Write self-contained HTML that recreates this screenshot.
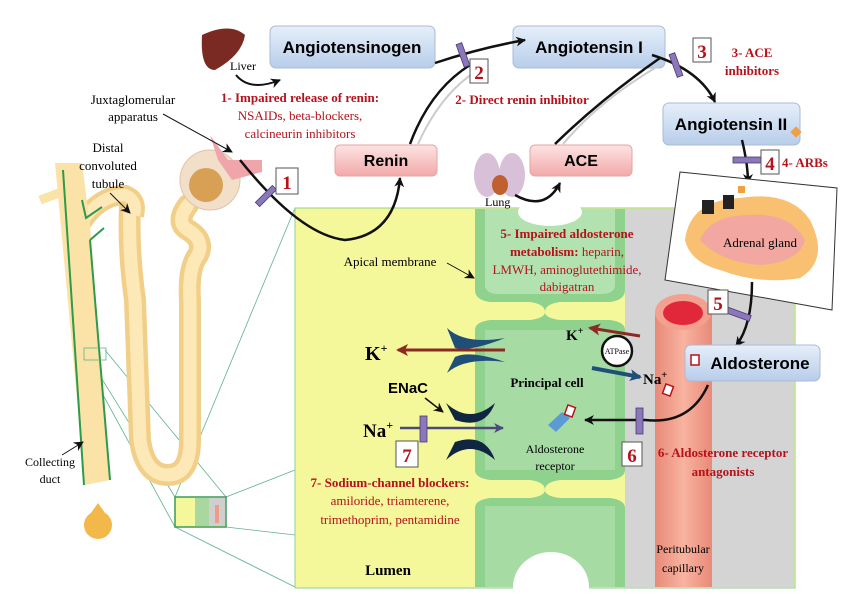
<!DOCTYPE html>
<html><head><meta charset="utf-8"><style>
body{margin:0;background:#fff}
svg{display:block}
text{font-family:"Liberation Serif",serif}
.s{font-family:"Liberation Sans",sans-serif;font-weight:bold}
.r{fill:#b5121b;font-weight:bold}
.rn{fill:#b5121b}
</style></head><body>
<svg width="862" height="612" viewBox="0 0 862 612" xmlns="http://www.w3.org/2000/svg">
<defs>
<linearGradient id="bl" x1="0" y1="0" x2="0" y2="1"><stop offset="0" stop-color="#e6effa"/><stop offset="1" stop-color="#b8cdea"/></linearGradient>
<linearGradient id="pk" x1="0" y1="0" x2="0" y2="1"><stop offset="0" stop-color="#fde3e3"/><stop offset="1" stop-color="#f2a9a9"/></linearGradient>
<linearGradient id="cap" x1="0" y1="0" x2="1" y2="0"><stop offset="0" stop-color="#e88a78"/><stop offset="0.5" stop-color="#f8b3a0"/><stop offset="1" stop-color="#e88a78"/></linearGradient>
<marker id="a" markerUnits="userSpaceOnUse" markerWidth="12" markerHeight="12" refX="9" refY="5" orient="auto"><path d="M0,0 L10,5 L0,10 L3,5z" fill="#111"/></marker>
<marker id="ar" markerUnits="userSpaceOnUse" markerWidth="14" markerHeight="14" refX="10" refY="6" orient="auto"><path d="M0,0 L12,6 L0,12 L3,6z" fill="#8b2a22"/></marker>
<marker id="ab" markerUnits="userSpaceOnUse" markerWidth="14" markerHeight="14" refX="10" refY="6" orient="auto"><path d="M0,0 L12,6 L0,12 L3,6z" fill="#1f4e79"/></marker>
<marker id="ap" markerUnits="userSpaceOnUse" markerWidth="12" markerHeight="12" refX="9" refY="5" orient="auto"><path d="M0,0 L10,5 L0,10 L3,5z" fill="#4a4a7a"/></marker>
</defs>

<!-- zoom lines -->
<g stroke="#5fb38a" stroke-width="0.8" fill="none">
<line x1="175" y1="497" x2="295" y2="208"/><line x1="175" y1="527" x2="295" y2="587"/>
<line x1="226" y1="497" x2="295" y2="470"/><line x1="226" y1="527" x2="295" y2="535"/>
<line x1="84" y1="350" x2="175" y2="497"/><line x1="105" y1="350" x2="226" y2="497"/><line x1="84" y1="360" x2="175" y2="527"/>
</g>

<!-- tubule -->
<path d="M130,205 Q128,250 135,300 L140,440 Q145,475 168,475 Q190,475 190,440 L190,300 Q188,268 198,255 Q205,240 188,230 Q175,222 188,205" stroke="#f2cf88" stroke-width="22" fill="none" stroke-linecap="round"/>
<path d="M130,205 Q128,250 135,300 L140,440 Q145,475 168,475 Q190,475 190,440 L190,300 Q188,268 198,255 Q205,240 188,230 Q175,222 188,205" stroke="#fde9b8" stroke-width="13" fill="none" stroke-linecap="round"/>
<path d="M82,222 Q100,195 125,195 Q138,200 134,215" stroke="#f2cf88" stroke-width="20" fill="none"/>
<path d="M82,222 Q100,195 125,195 Q138,200 134,215" stroke="#fde9b8" stroke-width="12" fill="none"/>
<path d="M55,163 L82,163 L90,225 L110,480 L85,485 Z" fill="#fbe3a8"/>
<path d="M40,200 L62,192" stroke="#fbe3a8" stroke-width="9"/>
<path d="M63,170 L84,485" stroke="#2e9a4a" stroke-width="2"/>
<path d="M90,240 L110,480" stroke="#2e9a4a" stroke-width="2"/>
<path d="M82,200 L86,218 L102,207 M90,240 L104,228" stroke="#2e9a4a" stroke-width="2" fill="none"/>
<rect x="84" y="348" width="22" height="12" fill="none" stroke="#5fb38a" stroke-width="0.8"/>
<circle cx="210" cy="180" r="30" fill="#f2dfc9" stroke="#e0c3a4"/>
<circle cx="206" cy="185" r="17" fill="#d8a055"/>
<path d="M210,135 L228,160 L262,160 L262,172 L232,180 L218,160 Z" fill="#f0a5aa"/>
<circle cx="98" cy="525" r="14" fill="#f2b84a"/>
<path d="M98,503 L86,520 L110,520 Z" fill="#f2b84a"/>
<rect x="175" y="497" width="51" height="30" fill="#f4f79a" stroke="#3c9a5a" stroke-width="1.5"/>
<rect x="195" y="498" width="14" height="28" fill="#a8d8a0"/>
<rect x="209" y="498" width="16" height="28" fill="#cfcfcf"/>
<rect x="215" y="505" width="4" height="18" fill="#f29a8a"/>

<text x="133" y="104" font-size="13" text-anchor="middle">Juxtaglomerular</text>
<text x="133" y="121" font-size="13" text-anchor="middle">apparatus</text>
<line x1="163" y1="114" x2="232" y2="152" stroke="#111" marker-end="url(#a)"/>
<text x="108" y="152" font-size="13" text-anchor="middle">Distal</text>
<text x="108" y="170" font-size="13" text-anchor="middle">convoluted</text>
<text x="108" y="188" font-size="13" text-anchor="middle">tubule</text>
<line x1="110" y1="193" x2="130" y2="213" stroke="#111" marker-end="url(#a)"/>
<text x="50" y="466" font-size="12" text-anchor="middle">Collecting</text>
<text x="50" y="483" font-size="12" text-anchor="middle">duct</text>
<line x1="62" y1="455" x2="83" y2="442" stroke="#111" marker-end="url(#a)"/>

<!-- liver / lung -->
<path d="M202,35 Q230,22 245,35 Q242,55 215,70 Q200,70 202,35z" fill="#7a2a22"/>
<text x="230" y="70" font-size="12">Liver</text>
<path d="M236,75 Q250,92 280,80" stroke="#111" stroke-width="2" fill="none" marker-end="url(#a)"/>
<ellipse cx="487" cy="175" rx="13" ry="22" fill="#d8c0d8"/>
<ellipse cx="512" cy="175" rx="13" ry="22" fill="#d8c0d8"/>
<ellipse cx="500" cy="185" rx="8" ry="10" fill="#c06030"/>

<!-- boxes -->
<rect x="270" y="26" width="165" height="42" rx="6" fill="url(#bl)" stroke="#aabbd5"/>
<text x="352" y="53" font-size="17" class="s" text-anchor="middle">Angiotensinogen</text>
<rect x="513" y="26" width="152" height="42" rx="6" fill="url(#bl)" stroke="#aabbd5"/>
<text x="589" y="53" font-size="17" class="s" text-anchor="middle">Angiotensin I</text>
<rect x="663" y="103" width="137" height="42" rx="6" fill="url(#bl)" stroke="#aabbd5"/>
<text x="731" y="130" font-size="17" class="s" text-anchor="middle">Angiotensin II</text>
<rect x="335" y="145" width="102" height="31" rx="5" fill="url(#pk)" stroke="#e3a5a5"/>
<text x="386" y="166" font-size="16" class="s" text-anchor="middle">Renin</text>
<rect x="530" y="145" width="102" height="31" rx="5" fill="url(#pk)" stroke="#e3a5a5"/>
<text x="581" y="166" font-size="16" class="s" text-anchor="middle">ACE</text>
<rect x="792" y="128" width="8" height="8" fill="#f0a040" transform="rotate(45 796 132)"/>

<!-- pathway arrows -->
<path d="M418,144 Q440,95 475,72" stroke="#ccc" stroke-width="2" fill="none"/>
<path d="M563,144 Q600,100 660,65" stroke="#ccc" stroke-width="2" fill="none"/>
<g stroke="#111" stroke-width="2.5" fill="none">
<path d="M410,144 Q430,90 470,65"/>
<path d="M435,63 Q480,48 525,40" marker-end="url(#a)"/>
<path d="M555,144 Q600,100 660,58"/>
<path d="M652,55 Q700,70 715,102" marker-end="url(#a)"/>
<path d="M742,140 Q748,165 748,183" marker-end="url(#a)"/>
</g>

<!-- cell panel -->
<rect x="295" y="208" width="500" height="380" fill="#f4f79a" stroke="#8fd08f"/>
<rect x="625" y="209" width="169" height="378" fill="#d4d4d4"/>
<path d="M475,209 L625,209 L625,290 Q625,300 610,302 L560,302 Q545,304 545,312 Q545,318 560,320 L610,320 Q625,322 625,330 L625,470 Q625,478 610,480 L560,480 Q545,482 545,490 Q545,496 560,498 L610,498 Q625,500 625,508 L625,587 L475,587 L475,508 Q475,500 490,498 L530,498 Q545,496 545,490 Q545,482 530,480 L490,480 Q475,478 475,470 L475,330 Q475,322 490,320 L530,320 Q545,318 545,312 Q545,304 530,302 L490,302 Q475,300 475,290z" fill="#8ed28e"/>
<path d="M485,209 L615,209 L615,285 Q615,294 600,294 L500,294 Q485,294 485,285z" fill="#b2e2b0"/>
<path d="M485,330 L615,330 L615,470 L485,470z" fill="#a6dca4"/>
<path d="M485,506 L615,506 L615,587 L485,587z" fill="#a6dca4"/>
<ellipse cx="550" cy="212" rx="32" ry="14" fill="#fff"/>
<ellipse cx="551" cy="587" rx="38" ry="35" fill="#fff"/>
<rect x="655" y="312" width="57" height="275" fill="url(#cap)"/>
<ellipse cx="683" cy="312" rx="28" ry="18" fill="#f4a090"/>
<ellipse cx="683" cy="313" rx="20" ry="12" fill="#e0283a"/>

<!-- curves over panel -->
<g stroke="#111" stroke-width="2.5" fill="none">
<path d="M240,160 Q300,235 345,240 Q395,235 400,178" marker-end="url(#a)"/>
<path d="M515,195 Q545,212 560,183" marker-end="url(#a)"/>
</g>
<text x="485" y="206" font-size="12">Lung</text>

<!-- adrenal -->
<polygon points="680,172 837,188 832,310 665,280" fill="#fff" stroke="#333"/>
<path d="M685,240 Q690,200 740,198 Q790,190 810,220 Q830,260 800,278 Q760,285 720,270 Q690,262 685,240z" fill="#f8c070"/>
<path d="M700,240 Q710,215 750,215 Q790,212 805,240 Q800,262 760,265 Q720,262 700,240z" fill="#f2a8a0"/>
<rect x="702" y="200" width="12" height="14" fill="#222"/><rect x="723" y="195" width="11" height="14" fill="#222"/>
<rect x="738" y="186" width="7" height="7" fill="#f0a040"/>
<text x="760" y="247" font-size="13" text-anchor="middle">Adrenal gland</text>
<path d="M752,282 Q752,325 736,346" stroke="#111" stroke-width="2.5" fill="none" marker-end="url(#a)"/>

<!-- blockers -->
<g fill="#8a78b8" stroke="#4a3a7a" stroke-width="0.8">
<rect x="254" y="193" width="24" height="6" transform="rotate(-45 266 196)"/>
<rect x="451" y="52" width="24" height="6" transform="rotate(70 463 55)"/>
<rect x="664" y="62" width="24" height="6" transform="rotate(70 676 65)"/>
<rect x="733" y="157" width="28" height="6"/>
<rect x="725" y="311" width="26" height="6" transform="rotate(20 738 314)"/>
</g>
<g font-size="19" font-weight="bold" fill="#b5121b" text-anchor="middle">
<rect x="276" y="168" width="22" height="26" fill="#fff" stroke="#555"/><text x="287" y="189">1</text>
<rect x="470" y="59" width="18" height="24" fill="#fff" stroke="#555"/><text x="479" y="79">2</text>
<rect x="693" y="38" width="18" height="24" fill="#fff" stroke="#555"/><text x="702" y="58">3</text>
<rect x="761" y="150" width="18" height="24" fill="#fff" stroke="#555"/><text x="770" y="170">4</text>
</g>
<text x="782" y="167" font-size="13" class="r">4- ARBs</text>
<text x="752" y="57" font-size="13" class="r" text-anchor="middle">3- ACE</text>
<text x="752" y="75" font-size="13" class="r" text-anchor="middle">inhibitors</text>
<text x="522" y="104" font-size="13" class="r" text-anchor="middle">2- Direct renin inhibitor</text>
<text x="300" y="102" font-size="13" class="r" text-anchor="middle">1- Impaired release of renin:</text>
<text x="300" y="120" font-size="13" class="rn" text-anchor="middle">NSAIDs, beta-blockers,</text>
<text x="300" y="138" font-size="13" class="rn" text-anchor="middle">calcineurin inhibitors</text>

<text x="390" y="266" font-size="13" text-anchor="middle">Apical membrane</text>
<line x1="447" y1="263" x2="474" y2="278" stroke="#111" marker-end="url(#a)"/>
<text x="567" y="238" font-size="13" class="r" text-anchor="middle">5- Impaired aldosterone</text>
<text x="567" y="256" font-size="13" text-anchor="middle"><tspan class="r">metabolism:</tspan><tspan class="rn"> heparin,</tspan></text>
<text x="567" y="274" font-size="13" class="rn" text-anchor="middle">LMWH, aminoglutethimide,</text>
<text x="567" y="291" font-size="13" class="rn" text-anchor="middle">dabigatran</text>

<!-- channels -->
<path d="M447,328 Q465,345 505,338 Q470,352 455,348z" fill="#1f4e79"/>
<path d="M455,357 Q470,350 505,362 Q465,357 447,373z" fill="#1f4e79"/>
<path d="M446,403 Q470,425 495,403 Q485,430 455,420z" fill="#0f2540"/>
<path d="M446,460 Q470,438 495,460 Q485,432 455,442z" fill="#0f2540"/>
<line x1="505" y1="350" x2="398" y2="350" stroke="#8b2a22" stroke-width="3" marker-end="url(#ar)"/>
<text x="365" y="360" font-size="20" font-weight="bold">K<tspan font-size="12" dy="-8">+</tspan></text>
<text x="388" y="393" font-size="15" class="s">ENaC</text>
<line x1="425" y1="398" x2="443" y2="412" stroke="#111" stroke-width="1.5" marker-end="url(#a)"/>
<text x="363" y="437" font-size="19" font-weight="bold">Na<tspan font-size="12" dy="-8">+</tspan></text>
<line x1="400" y1="428" x2="503" y2="428" stroke="#4a4a7a" stroke-width="2.5" marker-end="url(#ap)"/>
<rect x="420" y="416" width="7" height="26" fill="#8a78b8" stroke="#4a3a7a" stroke-width="0.8"/>
<rect x="396" y="441" width="22" height="26" fill="#fff" stroke="#555"/>
<text x="407" y="462" font-size="19" font-weight="bold" fill="#b5121b" text-anchor="middle">7</text>
<text x="390" y="487" font-size="13" class="r" text-anchor="middle">7- Sodium-channel blockers:</text>
<text x="390" y="505" font-size="13" class="rn" text-anchor="middle">amiloride, triamterene,</text>
<text x="390" y="524" font-size="13" class="rn" text-anchor="middle">trimethoprim, pentamidine</text>
<text x="388" y="575" font-size="15" font-weight="bold" text-anchor="middle">Lumen</text>
<text x="547" y="387" font-size="13" font-weight="bold" text-anchor="middle">Principal cell</text>
<text x="555" y="453" font-size="12" text-anchor="middle">Aldosterone</text>
<text x="555" y="470" font-size="12" text-anchor="middle">receptor</text>
<path d="M548,425 L562,412 L570,418 L556,432z" fill="#5b9bd5"/>
<rect x="566" y="406" width="8" height="10" fill="#fff" stroke="#b5121b" stroke-width="1.5" transform="rotate(20 570 411)"/>
<line x1="640" y1="336" x2="590" y2="328" stroke="#8b2a22" stroke-width="3" marker-end="url(#ar)"/>
<text x="566" y="340" font-size="15" font-weight="bold">K<tspan font-size="10" dy="-6">+</tspan></text>
<circle cx="617" cy="351" r="15" fill="#fff" stroke="#111" stroke-width="2.5"/>
<text x="617" y="354" font-size="8" text-anchor="middle">ATPase</text>
<line x1="592" y1="368" x2="640" y2="377" stroke="#1f4e79" stroke-width="4" marker-end="url(#ab)"/>
<text x="643" y="384" font-size="15" font-weight="bold">Na<tspan font-size="10" dy="-6">+</tspan></text>
<rect x="664" y="385" width="8" height="10" fill="#fff" stroke="#b5121b" stroke-width="1.5" transform="rotate(20 668 390)"/>
<path d="M708,385 Q690,425 645,420 L585,420" stroke="#111" stroke-width="2.5" fill="none" marker-end="url(#a)"/>
<rect x="636" y="408" width="7" height="26" fill="#8a78b8" stroke="#4a3a7a" stroke-width="0.8"/>
<rect x="622" y="442" width="20" height="24" fill="#fff" stroke="#555"/>
<text x="632" y="462" font-size="19" font-weight="bold" fill="#b5121b" text-anchor="middle">6</text>
<text x="723" y="457" font-size="13" class="r" text-anchor="middle">6- Aldosterone receptor</text>
<text x="723" y="476" font-size="13" class="r" text-anchor="middle">antagonists</text>
<text x="683" y="553" font-size="12" text-anchor="middle">Peritubular</text>
<text x="683" y="572" font-size="12" text-anchor="middle">capillary</text>
<rect x="685" y="345" width="135" height="36" rx="6" fill="url(#bl)" stroke="#aabbd5"/>
<rect x="691" y="355" width="8" height="10" fill="#fff" stroke="#b5121b" stroke-width="1.5"/>
<text x="760" y="369" font-size="17" class="s" text-anchor="middle">Aldosterone</text>
<rect x="708" y="290" width="20" height="24" fill="#fff" stroke="#555"/>
<text x="718" y="310" font-size="19" font-weight="bold" fill="#b5121b" text-anchor="middle">5</text>
</svg>
</body></html>
